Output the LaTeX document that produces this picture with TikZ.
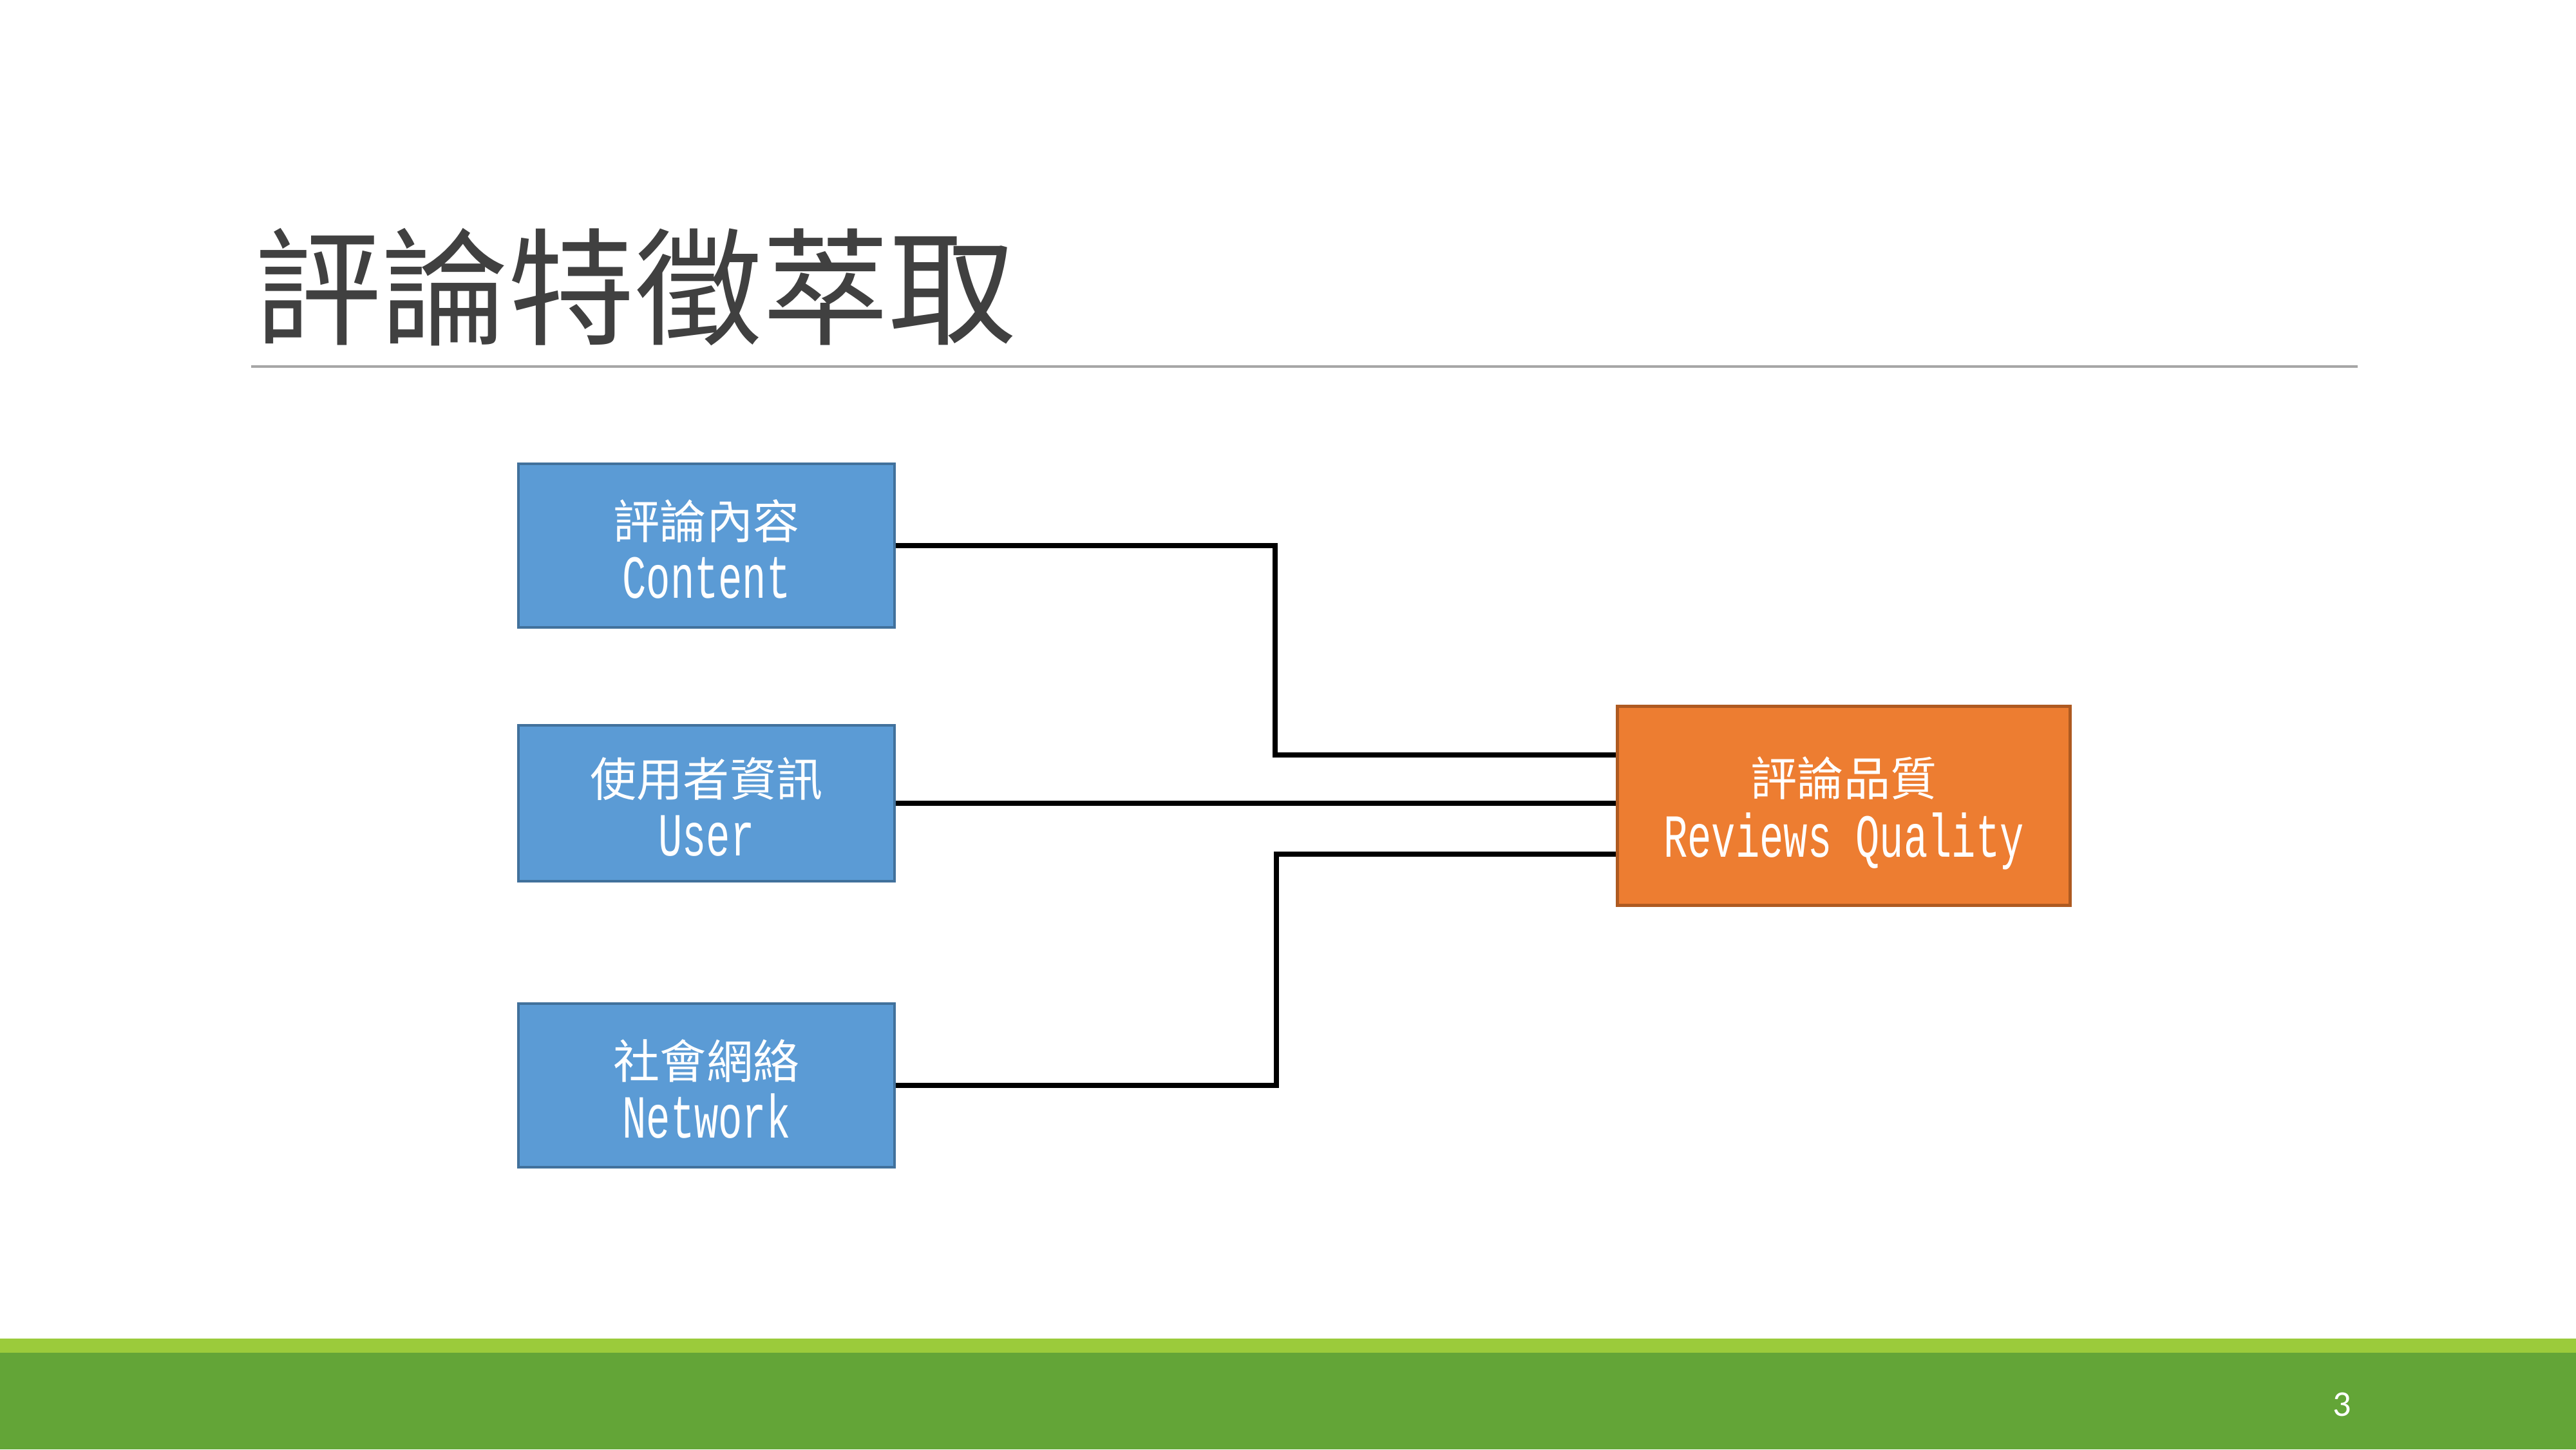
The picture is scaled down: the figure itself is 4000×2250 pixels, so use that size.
\documentclass[tikz,border=0pt]{standalone}
\usepackage{fontspec}
\setmainfont{Noto Sans CJK TC}
\newfontfamily\latinfont[FakeStretch=0.655]{Liberation Mono}
\newfontfamily\numfont{Carlito}
\definecolor{boxblue}{HTML}{5B9BD5}
\definecolor{boxblueline}{HTML}{41719C}
\definecolor{boxorange}{HTML}{ED7D31}
\definecolor{boxorangeline}{HTML}{AE5A21}
\definecolor{titlegray}{HTML}{404040}
\definecolor{rulegray}{HTML}{A6A6A6}
\definecolor{lightgreen}{HTML}{9BCB3B}
\definecolor{darkgreen}{HTML}{63A537}
\tikzset{
  featbox/.style={draw=boxblueline, fill=boxblue, line width=1.2pt, minimum width=584*0.01cm, minimum height=254*0.01cm, inner sep=0pt},
  qualbox/.style={draw=boxorangeline, fill=boxorange, line width=1.2pt, minimum width=703*0.01cm, minimum height=309*0.01cm, inner sep=0pt},
  boxtext/.style={inner sep=0pt, text=white, align=center, font=\fontsize{20.5}{24.5}\selectfont},
  conn/.style={line width=2.4pt, black},
}
\newcommand{\lat}[1]{{\latinfont\fontsize{27}{24.5}\selectfont #1}}
\begin{document}
\begin{tikzpicture}[x=0.01cm, y=-0.01cm]
\useasboundingbox (0,0) rectangle (4000,2250);
\fill[white] (0,0) rectangle (4000,2250);
% bottom band
\fill[lightgreen] (0,2078) rectangle (4000,2100);
\fill[darkgreen] (0,2100) rectangle (4000,2250);
\node[text=white, font=\numfont\fontsize{16}{18}\selectfont] (pnum) at (3637,2180) {3};
% title
\node[anchor=west, text=titlegray, font=\fontsize{56}{62}\selectfont, inner sep=0pt] (title) at (395,446) {評論特徵萃取};
\draw[rulegray, line width=0.9pt] (390,569) -- (3661,569);
% boxes
\node[featbox] (content) at (1097,847) {};
\node[featbox, minimum height=242*0.01cm] (user) at (1097,1247) {};
\node[featbox] (network) at (1097,1685) {};
\node[qualbox] (quality) at (2863,1251) {};
% box texts
\node[boxtext] (contentlbl) at ([yshift=-1.5pt]content.center) {評論內容\\[1.6pt]\lat{Content}};
\node[boxtext] (userlbl) at ([yshift=-1.5pt]user.center) {使用者資訊\\[1.6pt]\lat{User}};
\node[boxtext] (networklbl) at ([yshift=-1.5pt]network.center) {社會網絡\\[1.6pt]\lat{Network}};
\node[boxtext] (qualitylbl) at ([yshift=-3.2pt]quality.center) {評論品質\\[2.6pt]\lat{Reviews Quality}};
% connector points
\coordinate (c1) at (1980,847);
\coordinate (c2) at (1980,1172);
\coordinate (n1) at (1982,1685);
\coordinate (n2) at (1982,1326);
\draw[conn] (content.east) -- (c1) -- (c2) -- (c2 -| quality.west);
\draw[conn] (user.east) -- (user.east -| quality.west);
\draw[conn] (network.east) -- (n1) -- (n2) -- (n2 -| quality.west);
\end{tikzpicture}
\end{document}
